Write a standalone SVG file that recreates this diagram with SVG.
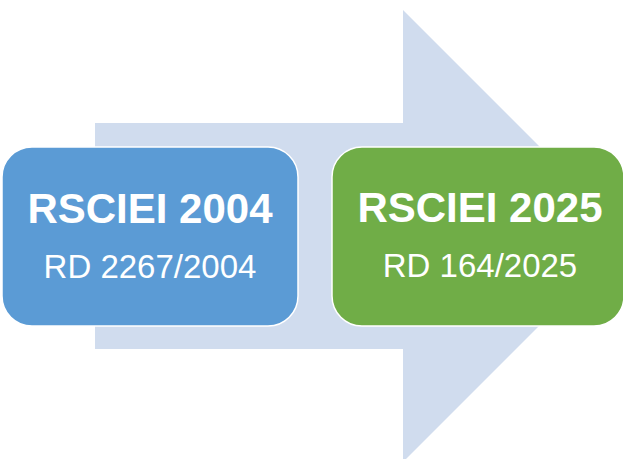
<svg xmlns="http://www.w3.org/2000/svg" width="623" height="459" viewBox="0 0 623 459">
<style>
.t1{font-family:"Liberation Sans",Arial,sans-serif;font-weight:bold;font-size:42px;fill:#fff;text-anchor:middle}
.t2{font-family:"Liberation Sans",Arial,sans-serif;font-size:33px;fill:#fff;text-anchor:middle}
</style>
<rect width="623" height="459" fill="#fff"/>
<g id="arrow">
<polygon points="95,123 403,123 403,10 629,236 403,462 403,349 95,349" fill="#D0DCEE"/>
</g>
<g id="node1">
<rect x="2" y="147" width="296" height="179" rx="30" fill="#5B9BD5" stroke="#fff" stroke-width="1.5"/>
<text class="t1" x="150" y="223">RSCIEI 2004</text>
<text class="t2" x="150" y="278">RD 2267/2004</text>
</g>
<g id="node2">
<rect x="332" y="147" width="292" height="179" rx="30" fill="#70AD47" stroke="#fff" stroke-width="1.5"/>
<text class="t1" x="480" y="222">RSCIEI 2025</text>
<text class="t2" x="480" y="277">RD 164/2025</text>
</g>
<g id="connectors"/>
</svg>
